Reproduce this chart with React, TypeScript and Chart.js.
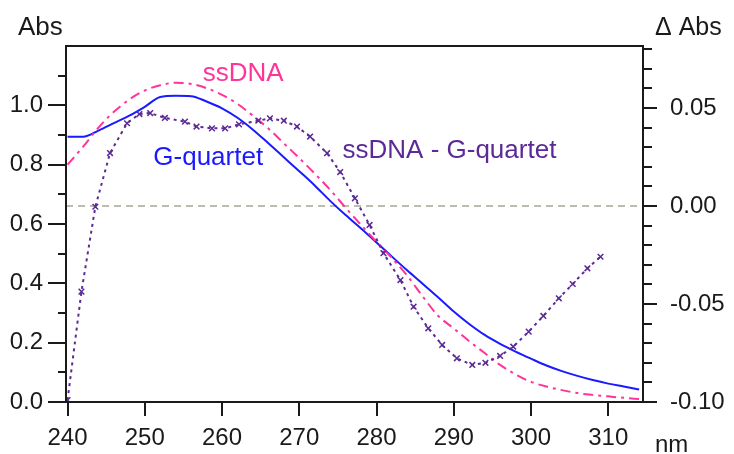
import React, { useEffect, useRef } from "react";
import { Chart, registerables } from "chart.js";

Chart.register(...registerables);

// ---------- data ----------
const specNm = [240, 242, 244, 246, 248, 250, 252, 254, 256, 258, 260, 262, 264, 266, 268, 270, 272, 274, 276, 278, 280, 282, 284, 286, 288, 290, 292, 294, 296, 298, 300, 302, 304, 306, 308, 310, 312, 314];

const gQuartetAbs = [0.894, 0.894, 0.915, 0.94, 0.965, 0.995, 1.028, 1.032, 1.031, 1.013, 0.99, 0.958, 0.918, 0.872, 0.825, 0.778, 0.73, 0.678, 0.63, 0.585, 0.538, 0.49, 0.443, 0.398, 0.352, 0.305, 0.263, 0.226, 0.196, 0.17, 0.146, 0.123, 0.104, 0.088, 0.074, 0.062, 0.052, 0.042];

const ssDnaAbs = [0.8, 0.86, 0.925, 0.978, 1.02, 1.05, 1.068, 1.076, 1.072, 1.058, 1.035, 1.005, 0.965, 0.922, 0.872, 0.822, 0.77, 0.715, 0.655, 0.597, 0.54, 0.485, 0.425, 0.355, 0.29, 0.248, 0.205, 0.165, 0.125, 0.093, 0.068, 0.052, 0.04, 0.03, 0.024, 0.019, 0.014, 0.01];

const diffNm = [240.0, 241.8, 243.6, 245.5, 247.7, 249.3, 250.7, 252.6, 255.2, 256.7, 258.7, 260.4, 262.2, 264.7, 266.2, 268.0, 269.7, 271.4, 273.6, 275.3, 277.2, 279.1, 280.9, 283.1, 284.8, 286.7, 288.5, 290.4, 292.4, 294.1, 296.0, 297.7, 299.7, 301.6, 303.6, 305.4, 307.3, 309.0];

const diffAbs = [-0.099, -0.0437, -0.0004, 0.027, 0.0422, 0.0469, 0.0474, 0.0449, 0.043, 0.0405, 0.0396, 0.0396, 0.0416, 0.0435, 0.0447, 0.0435, 0.0405, 0.0354, 0.0269, 0.0173, 0.0039, -0.0097, -0.0241, -0.0378, -0.0514, -0.0624, -0.0709, -0.0777, -0.0811, -0.08, -0.0765, -0.0718, -0.0641, -0.0561, -0.0471, -0.0398, -0.0318, -0.0259];

const xTickValues = [240, 250, 260, 270, 280, 290, 300, 310];
const leftTickValues = [0, 0.1, 0.2, 0.3, 0.4, 0.5, 0.6, 0.7, 0.8, 0.9, 1.0, 1.1];
const rightTickValues = [-0.1, -0.09, -0.08, -0.07, -0.06, -0.05, -0.04, -0.03, -0.02, -0.01, 0, 0.01, 0.02, 0.03, 0.04, 0.05, 0.06, 0.07, 0.08];

// annotation labels: text, x (nm), y (Abs, left axis), colour
const labelTexts = ["ssDNA", "G-quartet", "ssDNA - G-quartet"];
const labelNm = [257.5, 251.1, 275.6];
const labelAbs = [1.082, 0.799, 0.822];
const labelColors = ["#ff3399", "#1a1aff", "#5b2a96"];

const FONT = "'Liberation Sans', Arial, sans-serif";
const INK = "#1a1a1a";

const decorPlugin = {
  id: "decor",
  beforeDatasetsDraw(chart: any) {
    const { ctx, chartArea: a, scales } = chart;
    const y0 = scales.y2.getPixelForValue(0);
    ctx.save();
    ctx.strokeStyle = "#a9a797";
    ctx.lineWidth = 1.5;
    ctx.setLineDash([7, 5]);
    ctx.beginPath();
    ctx.moveTo(a.left, y0);
    ctx.lineTo(a.right, y0);
    ctx.stroke();
    ctx.restore();
  },
  afterDraw(chart: any) {
    const { ctx, chartArea: a, scales } = chart;
    ctx.save();
    ctx.strokeStyle = INK;
    ctx.lineWidth = 2;
    ctx.setLineDash([]);
    // frame: left, top, right, bottom
    ctx.beginPath();
    ctx.moveTo(a.left, a.bottom);
    ctx.lineTo(a.left, a.top);
    ctx.lineTo(a.right, a.top);
    ctx.lineTo(a.right, a.bottom);
    ctx.lineTo(a.left, a.bottom);
    ctx.stroke();

    // left ticks
    scales.y.ticks.forEach((t: any) => {
      const y = Math.round(scales.y.getPixelForValue(t.value));
      const major = Math.round(t.value * 10) % 2 === 0;
      const len = major ? 18 : 8;
      ctx.beginPath();
      ctx.moveTo(a.left - len, y);
      ctx.lineTo(a.left, y);
      ctx.stroke();
    });
    // right ticks
    scales.y2.ticks.forEach((t: any) => {
      const y = Math.round(scales.y2.getPixelForValue(t.value));
      const major = Math.round(t.value * 100) % 5 === 0;
      const len = major ? 14 : 9;
      ctx.beginPath();
      ctx.moveTo(a.right, y);
      ctx.lineTo(a.right + len, y);
      ctx.stroke();
    });
    // bottom ticks
    scales.x.ticks.forEach((t: any) => {
      const x = Math.round(scales.x.getPixelForValue(t.value));
      ctx.beginPath();
      ctx.moveTo(x, a.bottom);
      ctx.lineTo(x, a.bottom + 14);
      ctx.stroke();
    });

    // axis titles
    ctx.fillStyle = INK;
    ctx.textBaseline = "alphabetic";
    ctx.font = `26px ${FONT}`;
    ctx.textAlign = "left";
    ctx.fillText("Abs", a.left - 48, a.top - 11);
    ctx.font = `25px ${FONT}`;
    ctx.fillText("\u0394 Abs", a.right + 12, a.top - 11);
    ctx.font = `24px ${FONT}`;
    ctx.fillText("nm", a.right + 12, a.bottom + 50);

    // curve labels
    ctx.font = `26px ${FONT}`;
    labelTexts.forEach((txt, i) => {
      ctx.fillStyle = labelColors[i];
      ctx.fillText(txt, scales.x.getPixelForValue(labelNm[i]), scales.y.getPixelForValue(labelAbs[i]));
    });
    ctx.restore();
  },
};

export default function App() {
  const ref = useRef<HTMLCanvasElement | null>(null);

  useEffect(() => {
    document.body.style.margin = "0";
    const canvas = ref.current;
    if (!canvas) return;

    const gData = specNm.map((x, i) => ({ x, y: gQuartetAbs[i] }));
    const sData = specNm.map((x, i) => ({ x, y: ssDnaAbs[i] }));
    const dData = diffNm.map((x, i) => ({ x, y: diffAbs[i] }));

    const chart = new Chart(canvas, {
      type: "line",
      data: {
        datasets: [
          {
            label: "ssDNA - G-quartet",
            data: dData,
            yAxisID: "y2",
            borderColor: "#5b2a96",
            borderWidth: 2,
            borderDash: [3, 4],
            pointStyle: "crossRot",
            pointRadius: 4,
            pointBorderWidth: 1.5,
            pointBorderColor: "#5b2a96",
            pointBackgroundColor: "#5b2a96",
            tension: 0,
            fill: false,
          },
          {
            label: "ssDNA",
            data: sData,
            yAxisID: "y",
            borderColor: "#ff3399",
            borderWidth: 2,
            borderDash: [10, 5, 3, 5],
            pointRadius: 0,
            cubicInterpolationMode: "monotone",
            fill: false,
          },
          {
            label: "G-quartet",
            data: gData,
            yAxisID: "y",
            borderColor: "#1a1aff",
            borderWidth: 2,
            pointRadius: 0,
            cubicInterpolationMode: "monotone",
            fill: false,
          },
        ],
      },
      options: {
        animation: false,
        responsive: false,
        maintainAspectRatio: false,
        layout: { padding: { top: 46, left: 0, right: 0, bottom: 0 } },
        plugins: {
          legend: { display: false },
          tooltip: { enabled: false },
          title: { display: false },
        },
        scales: {
          x: {
            type: "linear",
            min: 239.8,
            max: 314.5,
            grid: { display: false, drawTicks: false },
            border: { display: false },
            afterBuildTicks: (s: any) => {
              s.ticks = xTickValues.map((v) => ({ value: v }));
            },
            afterFit: (s: any) => {
              s.height = 52;
            },
            ticks: {
              autoSkip: false,
              maxRotation: 0,
              padding: 22,
              color: INK,
              font: { family: FONT, size: 24 },
              callback: (v: any) => String(v),
            },
          },
          y: {
            type: "linear",
            position: "left",
            min: 0,
            max: 1.2,
            grid: { display: false, drawTicks: false },
            border: { display: false },
            afterBuildTicks: (s: any) => {
              s.ticks = leftTickValues.map((v) => ({ value: v }));
            },
            afterFit: (s: any) => {
              s.width = 66;
            },
            ticks: {
              autoSkip: false,
              padding: 23,
              color: INK,
              font: { family: FONT, size: 24 },
              callback: (v: any) => (Math.round(Number(v) * 10) % 2 === 0 ? Number(v).toFixed(1) : ""),
            },
          },
          y2: {
            type: "linear",
            position: "right",
            min: -0.1,
            max: 0.0816,
            grid: { display: false, drawTicks: false },
            border: { display: false },
            afterBuildTicks: (s: any) => {
              s.ticks = rightTickValues.map((v) => ({ value: v }));
            },
            afterFit: (s: any) => {
              s.width = 91;
            },
            ticks: {
              autoSkip: false,
              padding: 27,
              color: INK,
              font: { family: FONT, size: 24 },
              callback: (v: any) => {
                const n = Number(v);
                if (Math.round(n * 100) % 5 !== 0) return "";
                const s = Math.abs(n).toFixed(2);
                return n < -1e-9 ? "-" + s : s;
              },
            },
          },
        },
      },
      plugins: [decorPlugin],
    } as any);

    return () => chart.destroy();
  }, []);

  return (
    <div style={{ width: 734, height: 454, background: "#fff" }}>
      <canvas ref={ref} width={734} height={454} style={{ display: "block" }} />
    </div>
  );
}
